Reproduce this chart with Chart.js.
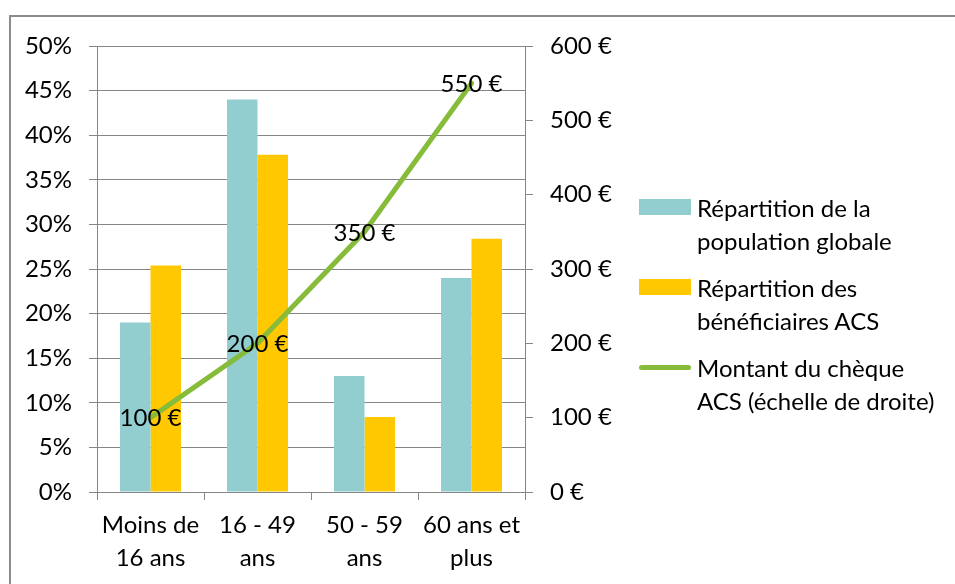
<!DOCTYPE html>
<html lang="fr">
<head>
<meta charset="utf-8">
<title>ACS – répartition par âge</title>
<script src="https://cdn.jsdelivr.net/npm/chart.js@4.4.1/dist/chart.umd.min.js"></script>
<style>
  html, body { margin: 0; padding: 0; background: #fff; overflow: hidden; }
  #wrap { position: relative; width: 955px; height: 584px; overflow: hidden; }
  #frame { position: absolute; left: 9px; top: 15px; width: 1000px; height: 700px;
           border-left: 2px solid #8c8c8c; border-top: 2px solid #8c8c8c; box-sizing: border-box; }
  canvas { position: absolute; left: 0; top: 0; }
  #legend { position: absolute; left: 639px; top: 192px; font-family: Lato, sans-serif;
            font-size: 24px; color: #000; }
  .item { position: relative; height: 80px; }
  .sw { position: absolute; left: 0; width: 52px; }
  .txt { position: absolute; left: 58px; top: 0; line-height: 32.5px; white-space: nowrap; }
</style>
</head>
<body>
<div id="wrap">
  <div id="frame"></div>
  <canvas id="c" width="955" height="584"></canvas>
  <div id="legend"></div>
</div>
<script>
// Age groups and the three series
const categories = [['Moins de', '16 ans'], ['16 - 49', 'ans'], ['50 - 59', 'ans'], ['60 ans et', 'plus']];
const populationGlobale = [19, 44, 13, 24];          // %
const beneficiairesACS = [25.4, 37.8, 8.4, 28.4];    // %
const montantCheque = [100, 200, 350, 550];          // €
const seriesNames = [
  ['Répartition de la', 'population globale'],
  ['Répartition des', 'bénéficiaires ACS'],
  ['Montant du chèque', 'ACS (échelle de droite)']
];

const TEAL = '#92CDCF';
const GOLD = '#FFC800';
const GREEN = '#86BC3A';
const GRAY = '#868686';
const FONT = { family: 'Lato, sans-serif', size: 24 };

// Value labels centred on each point of the line
const lineLabels = {
  id: 'lineLabels',
  afterDatasetsDraw(chart) {
    const ctx = chart.ctx;
    const meta = chart.getDatasetMeta(2);
    ctx.save();
    ctx.font = '24px Lato, sans-serif';
    ctx.fillStyle = '#000';
    ctx.textAlign = 'center';
    ctx.textBaseline = 'middle';
    meta.data.forEach((pt, i) => {
      ctx.fillText(montantCheque[i] + ' €', pt.x, pt.y + 1);
    });
    ctx.restore();
  }
};

new Chart(document.getElementById('c'), {
  type: 'bar',
  data: {
    labels: categories,
    datasets: [
      { type: 'bar', label: seriesNames[0].join(' '), data: populationGlobale, backgroundColor: TEAL,
        yAxisID: 'y', order: 2, categoryPercentage: 0.57, barPercentage: 1 },
      { type: 'bar', label: seriesNames[1].join(' '), data: beneficiairesACS, backgroundColor: GOLD,
        yAxisID: 'y', order: 2, categoryPercentage: 0.57, barPercentage: 1 },
      { type: 'line', label: seriesNames[2].join(' '), data: montantCheque, borderColor: GREEN,
        borderWidth: 5, pointRadius: 0, tension: 0, yAxisID: 'y1', order: 1, borderCapStyle: 'round' }
    ]
  },
  options: {
    responsive: false,
    animation: false,
    devicePixelRatio: 1,
    layout: { padding: { top: 46, left: 0, right: 330, bottom: 0 } },
    plugins: { legend: { display: false }, tooltip: { enabled: false } },
    scales: {
      x: {
        offset: true,
        grid: { display: true, offset: true, drawOnChartArea: false, drawTicks: true, tickLength: 8, color: GRAY },
        border: { display: true, color: GRAY },
        ticks: { font: { ...FONT, lineHeight: 1.38 }, color: '#000', padding: 9, maxRotation: 0, autoSkip: false },
        afterFit: s => { s.height = 92; }
      },
      y: {
        position: 'left', min: 0, max: 50,
        ticks: { stepSize: 5, callback: v => v + '%', font: FONT, color: '#000', padding: 17 },
        grid: { color: GRAY, tickLength: 8 },
        border: { display: true, color: GRAY },
        afterFit: s => { s.width = 97; }
      },
      y1: {
        position: 'right', min: 0, max: 600,
        ticks: { stepSize: 100, callback: v => v + ' €', font: FONT, color: '#000', padding: 17 },
        grid: { drawOnChartArea: false, tickLength: 8, color: GRAY },
        border: { display: true, color: GRAY },
        afterFit: s => { s.width = 100; }
      }
    }
  },
  plugins: [lineLabels]
});

// Legend on the right
const legend = document.getElementById('legend');
const swatches = [
  { top: 7, height: 16, bg: TEAL, radius: 0 },
  { top: 7, height: 16, bg: GOLD, radius: 0 },
  { top: 13, height: 5, bg: GREEN, radius: 3 }
];
seriesNames.forEach((lines, i) => {
  const item = document.createElement('div');
  item.className = 'item';
  const sw = document.createElement('div');
  sw.className = 'sw';
  sw.style.top = swatches[i].top + 'px';
  sw.style.height = swatches[i].height + 'px';
  sw.style.background = swatches[i].bg;
  sw.style.borderRadius = swatches[i].radius + 'px';
  const txt = document.createElement('div');
  txt.className = 'txt';
  txt.innerHTML = lines.join('<br>');
  item.appendChild(sw);
  item.appendChild(txt);
  legend.appendChild(item);
});
</script>
</body>
</html>
